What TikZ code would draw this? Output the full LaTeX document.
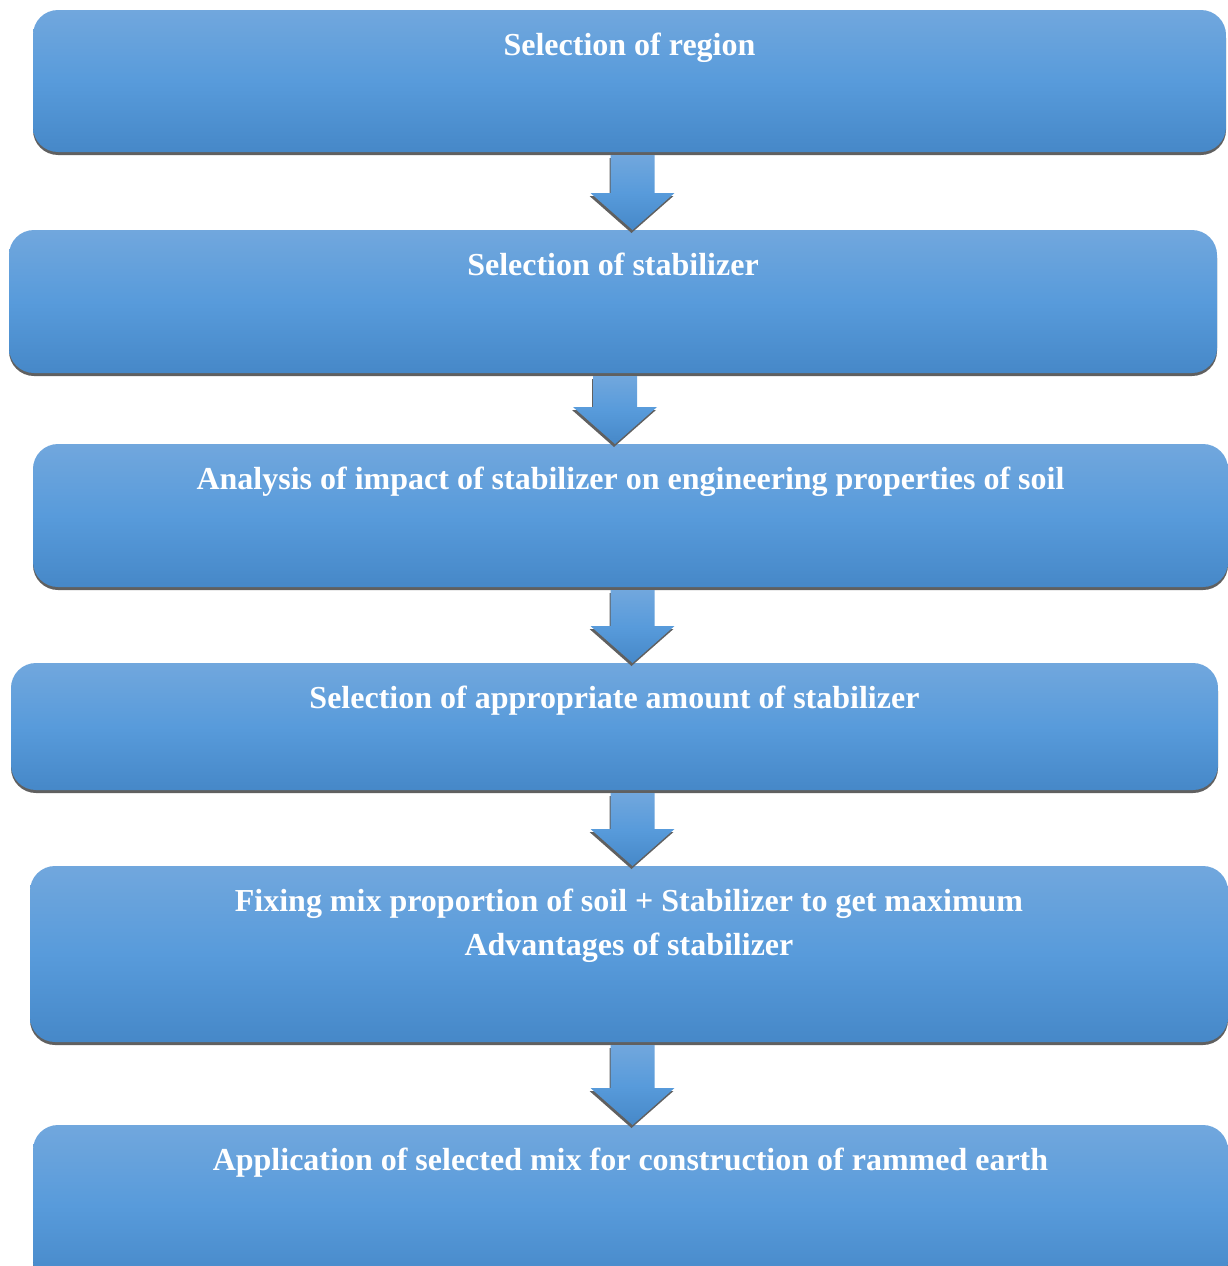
\documentclass[tikz,border=0pt]{standalone}
\usepackage{fontspec}
\setmainfont{Liberation Serif}
\usetikzlibrary{calc,shadows}
\definecolor{boxtop}{RGB}{113,167,221}
\definecolor{boxmid}{RGB}{88,155,219}
\definecolor{boxbot}{RGB}{70,136,200}
\definecolor{boxshade}{RGB}{96,96,96}

\begin{document}
\begin{tikzpicture}[x=1pt,y=-1pt,inner sep=0pt,outer sep=0pt,
flowbox/.style={rectangle,rounded corners=25pt,anchor=north west,
  top color=boxtop,bottom color=boxbot,middle color=boxmid,
  drop shadow={shadow xshift=0pt,shadow yshift=-3pt,fill=boxshade,opacity=1},
  text=white,font=\fontsize{32}{44}\selectfont\bfseries,align=flush center,text height=45pt},
flowarrow/.style={top color=boxtop,bottom color=boxbot,middle color=boxmid,
  drop shadow={shadow xshift=-1pt,shadow yshift=-3pt,fill=boxshade,opacity=1}}]
\useasboundingbox (0,0) rectangle (1227,1266);

\draw (33,10) node[flowbox,minimum width=1193pt,text width=1193pt,text depth=97pt] (region) {Selection of region};
\draw (9,230) node[flowbox,minimum width=1208pt,text width=1208pt,text depth=98pt] (stabilizer) {Selection of stabilizer};
\draw (33,444) node[flowbox,minimum width=1195pt,text width=1195pt,text depth=98pt] (impact) {Analysis of impact of stabilizer on engineering properties of soil};
\draw (11,663) node[flowbox,minimum width=1207pt,text width=1207pt,text depth=82pt] (amount) {Selection of appropriate amount of stabilizer};
\draw (30,866) node[flowbox,minimum width=1198pt,text width=1198pt,text depth=131pt] (mix) {Fixing mix proportion of soil + Stabilizer to get maximum\\ Advantages of stabilizer};
\draw (33,1125) node[flowbox,minimum width=1195pt,text width=1195pt,text depth=115pt] (rammed) {Application of selected mix for construction of rammed earth};

% block arrows between the steps
\foreach \from/\to/\x in {region/stabilizer/632.5,stabilizer/impact/615,impact/amount/632.5,amount/mix/632.5,mix/rammed/632.5}{
  \coordinate (s) at (\x,0 |- \from.south);
  \coordinate (t) at (\x,0 |- \to.north);
  \path[flowarrow] ($(s)+(-22,3)$) -- ($(t)+(-22,-37)$) -- ++(-20,0) -- (t) -- ++(42,-37) -- ++(-20,0) -- ($(s)+(22,3)$) -- cycle;
}
\end{tikzpicture}
\end{document}
